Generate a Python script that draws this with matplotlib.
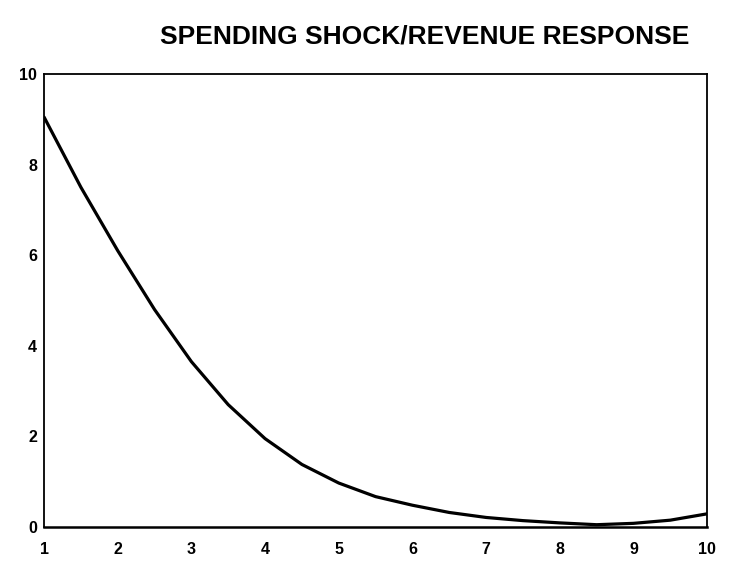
import matplotlib
matplotlib.use("Agg")
import matplotlib.pyplot as plt

# impulse response (half-period steps)
periods = [1, 1.5, 2, 2.5, 3, 3.5, 4, 4.5, 5, 5.5, 6, 6.5, 7, 7.5, 8, 8.5, 9, 9.5, 10]
response = [9.05, 7.5, 6.1, 4.8, 3.65, 2.7, 1.95, 1.38, 0.97, 0.67, 0.48, 0.32,
            0.21, 0.14, 0.09, 0.05, 0.08, 0.15, 0.29]
x_ticks = [1, 2, 3, 4, 5, 6, 7, 8, 9, 10]
y_ticks = [0, 2, 4, 6, 8, 10]
title = "SPENDING SHOCK/REVENUE RESPONSE"

plt.rcParams['font.family'] = ['Liberation Sans', 'DejaVu Sans']

fig = plt.figure(figsize=(7.29, 5.63), dpi=100)
ax = fig.add_axes([0.0604, 0.064, 0.9096, 0.8046])

ax.plot(periods, response, color='black', linewidth=2.3,
        solid_joinstyle='round', solid_capstyle='round')

ax.set_xlim(1, 10)
ax.set_ylim(0, 10)
ax.set_xticks(x_ticks)
ax.set_yticks(y_ticks)
ax.tick_params(axis='both', length=0, labelsize=11.5)
ax.tick_params(axis='x', pad=11)
ax.tick_params(axis='y', pad=5)
for lab in ax.get_xticklabels() + ax.get_yticklabels():
    lab.set_fontweight('bold')

for side in ['top', 'right', 'left']:
    ax.spines[side].set_linewidth(1.3)
ax.spines['bottom'].set_linewidth(1.8)

fig.text(0.583, 0.936, title, ha='center', va='center',
         fontsize=19, fontweight='bold')

fig.savefig("out.png", dpi=100)
